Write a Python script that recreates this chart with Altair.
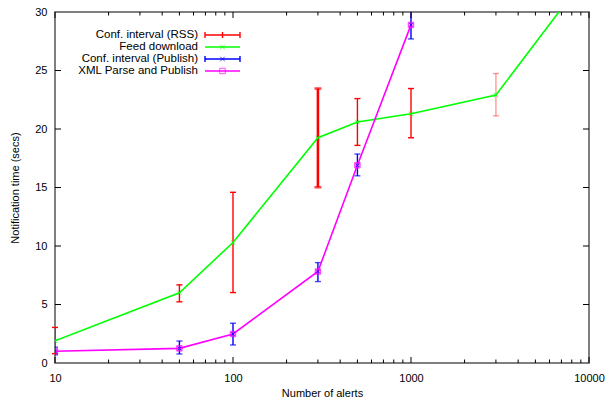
import altair as alt
import pandas as pd

# ---------------- data ----------------
alerts = [10, 50, 100, 300, 500, 1000, 3000, 10000]
feed_download = [1.9, 6.0, 10.3, 19.25, 20.6, 21.3, 22.9, 33.4]

rss_alerts = [10, 50, 100, 300, 500, 1000, 3000]
rss_lo = [0.8, 5.23, 6.02, 15.02, 18.6, 19.25, 21.13]
rss_hi = [3.04, 6.68, 14.59, 23.46, 22.6, 23.46, 24.74]

pub_alerts = [10, 50, 100, 300, 500, 1000]
xml_publish = [1.0, 1.25, 2.48, 7.82, 16.9, 28.9]
pub_lo = [0.7, 0.77, 1.54, 6.96, 16.0, 27.7]
pub_hi = [1.35, 1.88, 3.4, 8.58, 17.86, 30.2]

x_major = [10, 100, 1000, 10000]
x_minor = [m * d for d in (10, 100, 1000) for m in range(2, 10)]
y_ticks = [0, 5, 10, 15, 20, 25, 30]

legend_labels = ["Conf. interval (RSS)", "Feed download",
                 "Conf. interval (Publish)", "XML Parse and Publish"]

W, H = 534, 351
FONT = "Liberation Sans"
RED, GREEN, BLUE, MAGENTA = "#ff0000", "#00ff00", "#0000ff", "#ff00ff"
XPATH = "M-1,-1L1,1M-1,1L1,-1"

feed_df = pd.DataFrame({"alerts": alerts, "t": feed_download})
rss_df = pd.DataFrame({"alerts": rss_alerts, "lo": rss_lo, "hi": rss_hi})
pub_df = pd.DataFrame({"alerts": pub_alerts, "t": xml_publish, "lo": pub_lo, "hi": pub_hi})

xs = alt.Scale(type="log", domain=[10, 10000])
ys = alt.Scale(domain=[0, 30])

X = alt.X("alerts:Q", scale=xs, axis=alt.Axis(
    values=x_major, format="d", title="Number of alerts", grid=False, ticks=False,
    domain=False, labelFont=FONT, labelFontSize=11, labelColor="#000",
    labelPadding=9, titleFont=FONT, titleFontSize=11, titleFontWeight="normal",
    titleColor="#000", titlePadding=4, labelFlush=False))
Y_AX = alt.Axis(values=y_ticks, title="Notification time (secs)", grid=False,
                ticks=False, domain=False, labelFont=FONT, labelFontSize=11,
                labelColor="#000", labelPadding=8, titleFont=FONT, titleFontSize=11,
                titleFontWeight="normal", titleColor="#000", titlePadding=14)

# RSS error bars
rss_sw = alt.condition(alt.datum.alerts == 300, alt.value(2.6), alt.value(1.4))
rss_op = alt.condition(alt.datum.alerts == 3000, alt.value(0.4), alt.value(1.0))
rss_bar = alt.Chart(rss_df).mark_rule(color=RED, clip=True).encode(
    x=X, y=alt.Y("lo:Q", scale=ys, axis=Y_AX), y2="hi:Q",
    strokeWidth=rss_sw, opacity=rss_op)
rss_caps = []
for fld in ("lo", "hi"):
    rss_caps.append(alt.Chart(rss_df).transform_filter(alt.datum.alerts != 300).mark_tick(
        color=RED, orient="horizontal", size=6, thickness=1.4).encode(
        x="alerts:Q", y=f"{fld}:Q", opacity=rss_op))
    rss_caps.append(alt.Chart(rss_df).transform_filter(alt.datum.alerts == 300).mark_tick(
        color=RED, orient="horizontal", size=7, thickness=2.6, clip=True).encode(
        x="alerts:Q", y=f"{fld}:Q"))

# Feed download line
feed_line = alt.Chart(feed_df).mark_line(color=GREEN, strokeWidth=1.6, clip=True).encode(
    x="alerts:Q", y="t:Q")
feed_pts = alt.Chart(feed_df).mark_point(shape=XPATH, color=GREEN, size=20, strokeWidth=1,
                                         clip=True).encode(x="alerts:Q", y="t:Q")

# Publish error bars
pub_bar = alt.Chart(pub_df).mark_rule(color=BLUE, strokeWidth=1.4, clip=True).encode(
    x="alerts:Q", y="lo:Q", y2="hi:Q")
pub_cap_lo = alt.Chart(pub_df).mark_tick(color=BLUE, orient="horizontal", size=6, thickness=1.4,
                                         clip=True).encode(x="alerts:Q", y="lo:Q")
pub_cap_hi = alt.Chart(pub_df).mark_tick(color=BLUE, orient="horizontal", size=6, thickness=1.4,
                                         clip=True).encode(x="alerts:Q", y="hi:Q")

# XML parse and publish line
xml_line = alt.Chart(pub_df).mark_line(color=MAGENTA, strokeWidth=1.6, clip=True).encode(
    x="alerts:Q", y="t:Q")
xml_sq = alt.Chart(pub_df).mark_point(shape="square", color=MAGENTA, size=30, filled=True,
                                      opacity=0.45, clip=True).encode(x="alerts:Q", y="t:Q")
xml_sq2 = alt.Chart(pub_df).mark_point(shape="square", color=MAGENTA, size=30, strokeWidth=1,
                                       clip=True).encode(x="alerts:Q", y="t:Q")
pub_x = alt.Chart(pub_df).mark_point(shape=XPATH, color=BLUE, size=12, strokeWidth=1,
                                     opacity=0.8, clip=True).encode(x="alerts:Q", y="t:Q")

# inward ticks
xmaj_df = pd.DataFrame({"alerts": x_major})
xmin_df = pd.DataFrame({"alerts": x_minor})
yt_df = pd.DataFrame({"v": y_ticks[1:-1]})
tick_layers = []
for df, ln in ((xmaj_df, 6), (xmin_df, 3.5)):
    tick_layers.append(alt.Chart(df).mark_rule(color="#000", strokeWidth=1).encode(
        x="alerts:Q", y=alt.value(H), y2=alt.value(H - ln)))
    tick_layers.append(alt.Chart(df).mark_rule(color="#000", strokeWidth=1).encode(
        x="alerts:Q", y=alt.value(0), y2=alt.value(ln)))
tick_layers.append(alt.Chart(yt_df).mark_rule(color="#000", strokeWidth=1).encode(
    y="v:Q", x=alt.value(0), x2=alt.value(6)))
tick_layers.append(alt.Chart(yt_df).mark_rule(color="#000", strokeWidth=1).encode(
    y="v:Q", x=alt.value(W), x2=alt.value(W - 6)))

# legend (gnuplot-style key)
leg_layers = []
TX, L0, L1 = 143, 150, 185
LM = (L0 + L1) / 2
rows = [23, 35, 47, 59]
colors = [RED, GREEN, BLUE, MAGENTA]
for i, (lab, col, ry) in enumerate(zip(legend_labels, colors, rows)):
    one = pd.DataFrame({"label": [lab]})
    base = alt.Chart(one)
    leg_layers.append(base.mark_text(align="right", baseline="middle", font=FONT,
                                     fontSize=11.5, color="#000").encode(
        x=alt.value(TX), y=alt.value(ry), text="label:N"))
    leg_layers.append(base.mark_rule(color=col, strokeWidth=1.6).encode(
        x=alt.value(L0), x2=alt.value(L1), y=alt.value(ry)))
    if i in (0, 2):
        for cx in (L0, L1):
            leg_layers.append(base.mark_rule(color=col, strokeWidth=1.4).encode(
                x=alt.value(cx), y=alt.value(ry - 3), y2=alt.value(ry + 3)))
    if i == 0:
        leg_layers.append(base.mark_rule(color=col, strokeWidth=1.4).encode(
            x=alt.value(LM), y=alt.value(ry - 3), y2=alt.value(ry + 3)))
    if i in (1, 2):
        leg_layers.append(base.mark_point(shape=XPATH, color=col, size=20, strokeWidth=1).encode(
            x=alt.value(LM), y=alt.value(ry)))
    if i == 3:
        leg_layers.append(base.mark_point(shape="square", color=col, size=30, strokeWidth=1).encode(
            x=alt.value(LM), y=alt.value(ry)))

chart = alt.layer(
    rss_bar, *rss_caps,
    feed_line, feed_pts,
    pub_bar, pub_cap_lo, pub_cap_hi,
    xml_line, xml_sq, xml_sq2, pub_x,
    *tick_layers, *leg_layers
).properties(
    width=W, height=H,
    autosize=alt.AutoSizeParams(type="none"),
    padding={"left": 55, "top": 12, "right": 17, "bottom": 39},
    background="white",
).configure_view(stroke="#555555", strokeWidth=1.5)

chart.save("out.html", embed_options={"renderer": "svg", "actions": False})
